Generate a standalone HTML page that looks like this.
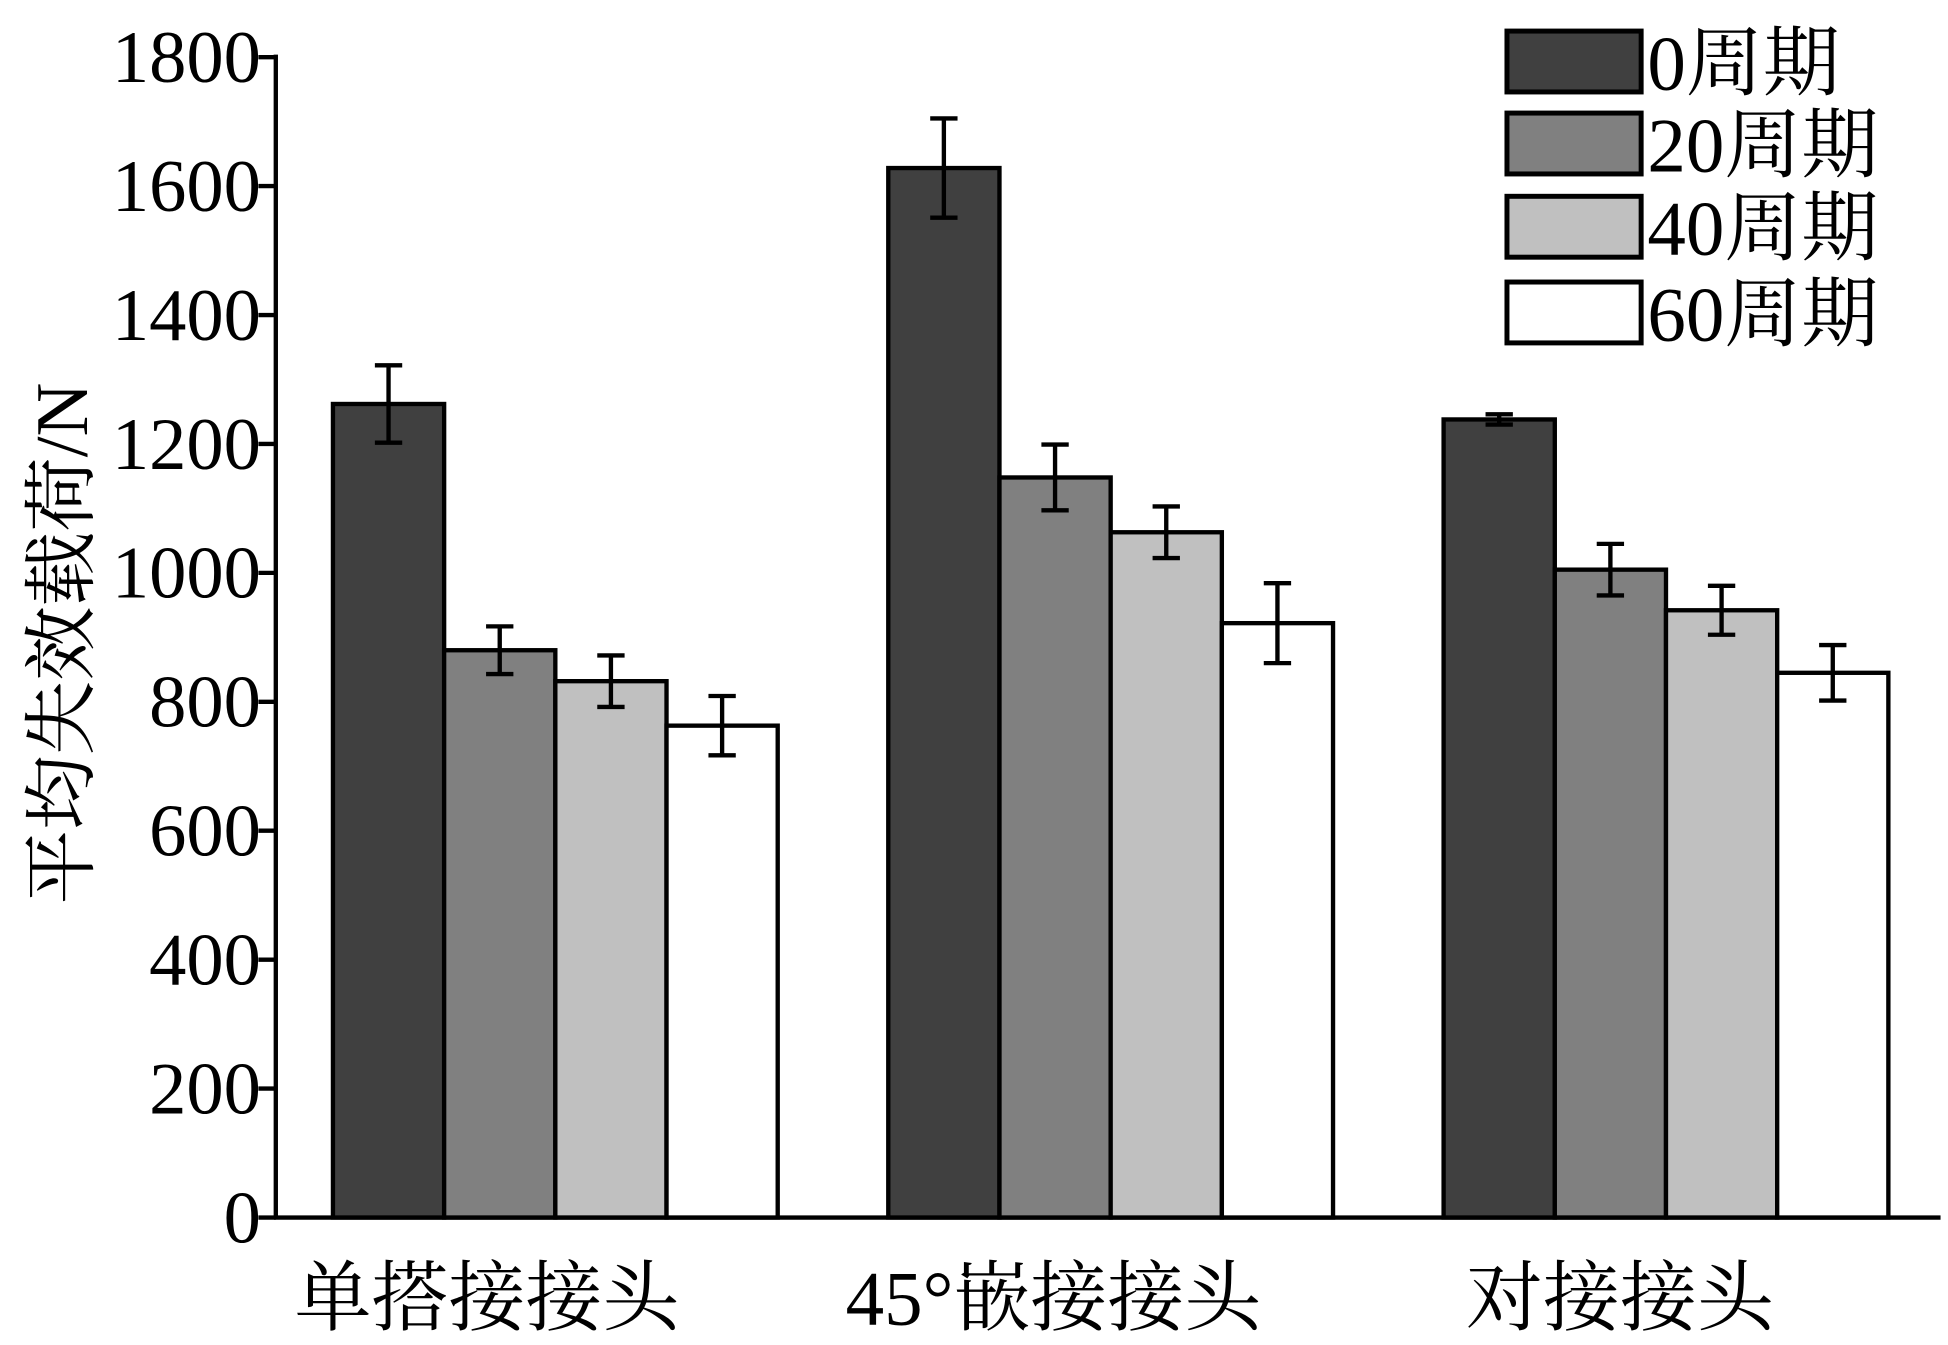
<!DOCTYPE html>
<html><head><meta charset="utf-8"><style>
html,body{margin:0;padding:0;background:#fff;}
svg{display:block;}
text{font-family:"Liberation Serif","Noto Serif CJK SC",serif;fill:#000;}
</style></head><body>
<svg id="chart" width="1948" height="1345" viewBox="0 0 1568 1082.6" xmlns="http://www.w3.org/2000/svg">
<g id="axes"></g><g id="bars"></g><g id="legend"></g>
</svg>
<script>
const categories = ["单搭接接头", "45°嵌接接头", "对接接头"];
const seriesNames = ["0周期", "20周期", "40周期", "60周期"];
const series0 = [1262, 1628, 1238];
const series20 = [880, 1148, 1005];
const series40 = [832, 1063, 942];
const series60 = [763, 922, 845];
const err0 = [60, 77, 8];
const err20 = [37, 51, 40];
const err40 = [40, 40, 38];
const err60 = [46, 62, 43];
const yTicks = [0, 200, 400, 600, 800, 1000, 1200, 1400, 1600, 1800];

const NS = "http://www.w3.org/2000/svg";
const colors = ["#404040", "#808080", "#c0c0c0", "#ffffff"];
const allSeries = [series0, series20, series40, series60];
const allErr = [err0, err20, err40, err60];
const x0 = 222, x1 = 1562, yBase = 980, yTop = 46;
const y = v => yBase - (v / 1800) * (yBase - yTop);
const barW = 89.5, groupStart = 268, groupStep = 447;
const xBar = (g, s) => groupStart + g * groupStep + s * barW;
const labelX = [392, 848, 1304];

function mk(tag, attrs, parent, txt) {
  const e = document.createElementNS(NS, tag);
  for (const k in attrs) e.setAttribute(k, attrs[k]);
  if (txt !== undefined) e.textContent = txt;
  parent.appendChild(e);
  return e;
}
const axes = document.getElementById('axes');
const bars = document.getElementById('bars');
const legend = document.getElementById('legend');

let e = mk('line', {x1: x0, y1: yTop - 2, x2: x0, y2: yBase, stroke: '#000', 'stroke-width': 3.5}, axes);


e = mk('line', {x1: x0 - 1.5, y1: yBase, x2: x1, y2: yBase, stroke: '#000', 'stroke-width': 3.5}, axes);



yTicks.forEach(t => {
  const tk = mk('line', {x1: x0 - 14, y1: y(t), x2: x0, y2: y(t), stroke: '#000', 'stroke-width': 3.5}, axes);
  
  
  const tl = mk('text', {x: x0 - 12, y: y(t) + 20, 'text-anchor': 'end', 'font-size': 60}, axes, String(t));
  
  
});

const yt = mk('text', {x: 0, y: 0, 'text-anchor': 'middle', 'font-size': 60, transform: 'translate(70,518) rotate(-90)'}, axes, '平均失效载荷/N');



categories.forEach((c, g) => {
  const cl = mk('text', {x: labelX[g], y: 1066, 'text-anchor': 'middle', 'font-size': 62}, axes, c);
  
  
  allSeries.forEach((s, si) => {
    const bx = xBar(g, si), by = y(s[g]);
    const r = mk('rect', {x: bx, y: by, width: barW, height: yBase - by, fill: colors[si], stroke: '#000', 'stroke-width': 3.5}, bars);
    
    
    const cx = bx + barW / 2, hi = y(s[g] + allErr[si][g]), lo = y(s[g] - allErr[si][g]);
    const eb = mk('path', {d: `M${cx},${hi}V${lo}M${cx - 11},${hi}H${cx + 11}M${cx - 11},${lo}H${cx + 11}`, stroke: '#000', 'stroke-width': 3.5, fill: 'none'}, bars);
    
    
  });
});

const legY = [25, 91, 158, 227];
seriesNames.forEach((n, i) => {
  const r = mk('rect', {x: 1213, y: legY[i], width: 108, height: 49, fill: colors[i], stroke: '#000', 'stroke-width': 4}, legend);
  
  
  const t = mk('text', {x: 1326, y: legY[i] + 47, 'font-size': 62}, legend, n);
  
  
});
</script>
</body></html>
